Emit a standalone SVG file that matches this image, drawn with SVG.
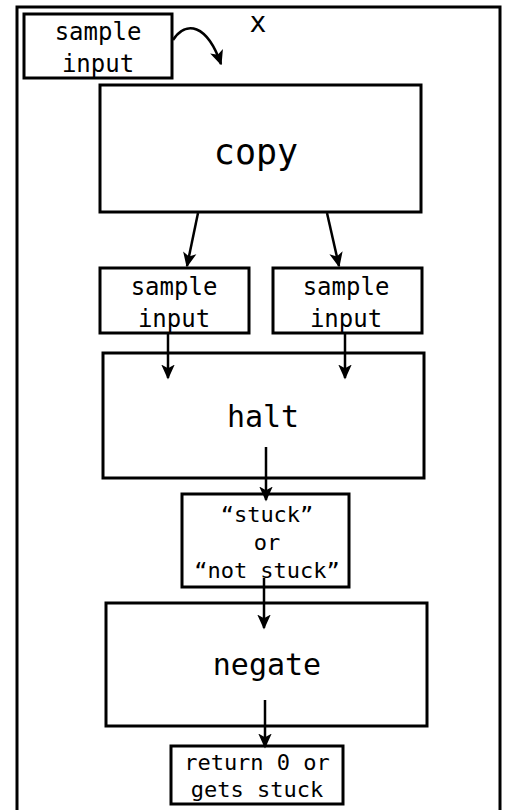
<svg xmlns="http://www.w3.org/2000/svg" width="505" height="810" viewBox="0 0 505 810">
<style>
.box{fill:#fff;stroke:#000;stroke-width:3}
.t{font-family:"DejaVu Sans Mono","Liberation Mono",monospace;fill:#000;text-anchor:middle}
.c{fill:none;stroke:#000;stroke-width:2.5}
</style>
<defs>
<marker id="ah" viewBox="0 0 10 10" refX="9" refY="5" markerWidth="6" markerHeight="6" markerUnits="strokeWidth" orient="auto">
<path d="M0,0.5 L10,5 L0,9.5 L2.5,5 z" fill="#000"/>
</marker>
</defs>
<rect id="frame" x="17" y="7" width="483" height="820" fill="#fff" stroke="#000" stroke-width="3"/>
<g id="in0"><rect class="box" x="24" y="14" width="148" height="64"/><text class="t" font-size="24" x="98" y="40">sample</text><text class="t" font-size="24" x="98" y="72">input</text></g>
<text id="xlabel" class="t" font-size="28" x="258" y="32">x</text>
<g id="copy"><rect class="box" x="100" y="85" width="321" height="127"/><text class="t" font-size="35" x="256" y="164">copy</text></g>
<g id="in1"><rect class="box" x="100" y="268" width="149" height="65"/><text class="t" font-size="24" x="174" y="295">sample</text><text class="t" font-size="24" x="174" y="327">input</text></g>
<g id="in2"><rect class="box" x="273" y="268" width="149" height="65"/><text class="t" font-size="24" x="346" y="295">sample</text><text class="t" font-size="24" x="346" y="327">input</text></g>
<g id="halt"><rect class="box" x="103" y="353" width="321" height="125"/><text class="t" font-size="30" x="263" y="427">halt</text></g>
<g id="stuck"><rect class="box" x="182" y="494" width="167" height="93"/><text class="t" font-size="22" x="267" y="522">“stuck”</text><text class="t" font-size="22" x="267" y="550">or</text><text class="t" font-size="22" x="267" y="578">“not stuck”</text></g>
<g id="negate"><rect class="box" x="106" y="603" width="321" height="123"/><text class="t" font-size="30" x="267" y="675">negate</text></g>
<g id="ret"><rect class="box" x="171" y="746" width="172" height="58"/><text class="t" font-size="22" x="257" y="770">return 0 or</text><text class="t" font-size="22" x="257" y="797">gets stuck</text></g>
<g id="connectors">
<path class="c" d="M173,40 C186,20 207,24 221,64" marker-end="url(#ah)"/>
<line class="c" x1="198" y1="213" x2="187" y2="266" marker-end="url(#ah)"/>
<line class="c" x1="327" y1="213" x2="339" y2="266" marker-end="url(#ah)"/>
<line class="c" x1="168" y1="333" x2="168" y2="378" marker-end="url(#ah)"/>
<line class="c" x1="345" y1="333" x2="345" y2="378" marker-end="url(#ah)"/>
<line class="c" x1="266" y1="447" x2="266" y2="500" marker-end="url(#ah)"/>
<line class="c" x1="264" y1="578" x2="264" y2="628" marker-end="url(#ah)"/>
<line class="c" x1="265" y1="700" x2="265" y2="747" marker-end="url(#ah)"/>
</g>
</svg>
